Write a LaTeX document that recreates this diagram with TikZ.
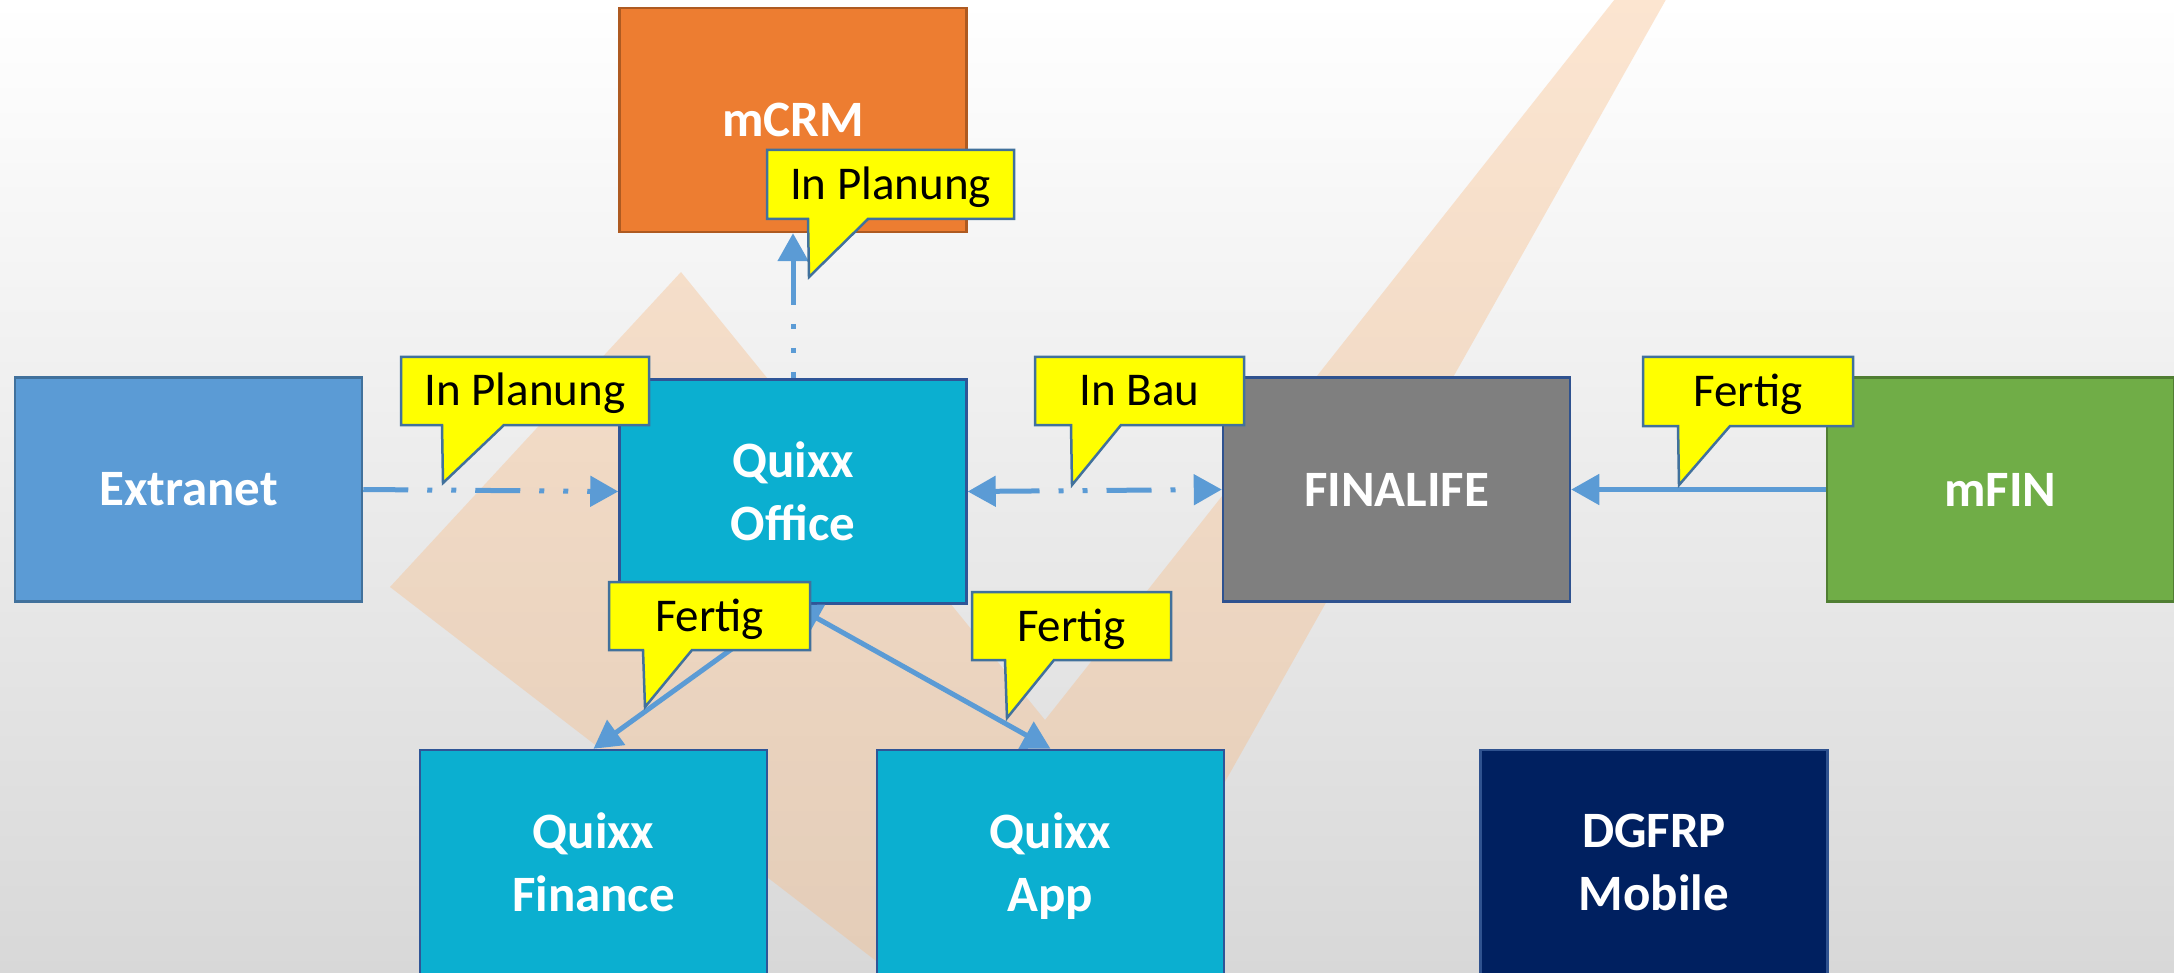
\documentclass[tikz,border=0pt]{standalone}
\usepackage{fontspec}
\setmainfont{Carlito}
\usetikzlibrary{arrows.meta,calc}
\definecolor{bgmid}{HTML}{F3F3F3}
\definecolor{bgbot}{HTML}{D8D8D8}
\definecolor{peach}{RGB}{248,186,130}
\definecolor{quixx}{HTML}{0BAFD0}
\definecolor{quixxb}{HTML}{2F5597}
\definecolor{extc}{HTML}{5B9BD5}
\definecolor{extb}{HTML}{41719C}
\definecolor{crmc}{HTML}{ED7D31}
\definecolor{crmb}{HTML}{AE5A21}
\definecolor{finc}{HTML}{7F7F7F}
\definecolor{finb}{HTML}{2F528F}
\definecolor{mfinc}{HTML}{70AD47}
\definecolor{mfinb}{HTML}{507E32}
\definecolor{dgc}{HTML}{002060}
\definecolor{dgb}{HTML}{2F528F}
\definecolor{arrowc}{HTML}{5B9BD5}
\definecolor{callb}{HTML}{41719C}
\definecolor{callf}{HTML}{FFFF00}
\newcommand\mycallout[9]{%
  \filldraw[callframe] (#2,#3) -- (#4,#3) -- (#4,#5) -- (#7,#5) -- (#8) -- (#6,#5) -- (#2,#5) -- cycle;
  \node[calltext] (#1) at ({(#2+#4)/2},{(#3+#5)/2+15}) {#9};
}
\begin{document}
\begin{tikzpicture}[x=1pt,y=-1pt,
  sysbox/.style={draw=#1, minimum width=347pt, minimum height=224pt, inner sep=0pt,
    line width=2.5pt, text=white, font=\fontsize{51}{63}\selectfont\bfseries, align=center},
  conn/.style={draw=arrowc, line width=5pt},
  dashdd/.style={dash pattern=on 45pt off 19pt on 5pt off 19pt on 5pt off 19pt},
  >={Triangle[length=28pt,width=30pt]},
  callframe/.style={fill=callf, draw=callb, line width=2.5pt, line join=miter},
  calltext/.style={anchor=base, inner sep=0pt, text=black, font=\fontsize{47}{56}\selectfont}]
\useasboundingbox (0,0) rectangle (2174,973);
\clip (0,0) rectangle (2174,973);
% background
\fill[top color=white, middle color=bgmid, bottom color=bgbot] (0,0) rectangle (2174,973);
% check mark
\fill[peach, fill opacity=0.37] (681,272) -- (390,587) -- (1049,1094) -- (1677,-20) -- (1630,-20) -- (1045,720) -- cycle;
% boxes
\node[sysbox=crmb, fill=crmc] (mcrm) at (793,120) {mCRM};
\node[sysbox=extb, fill=extc] (ext) at (188.5,489.5) {Extranet};
\node[sysbox=quixxb, fill=quixx] (off) at (793,491.5) {Quixx\\Office};
\node[sysbox=finb, fill=finc] (fin) at (1396.5,489.5) {FINALIFE};
\node[sysbox=mfinb, fill=mfinc] (mfin) at (2000.5,489.5) {mFIN};
\node[sysbox=quixxb, fill=quixx] (qf) at (593.5,862) {Quixx\\Finance};
\node[sysbox=quixxb, fill=quixx] (qa) at (1050.5,862) {Quixx\\\smash{App}};
\node[sysbox=dgb, fill=dgc] (dg) at (1654,862) {DGFRP\\Mobile};
% connectors
\draw[conn,dashdd,->] (ext.east) -- (off.west);
\draw[conn,dashdd,<-] (mcrm.south) -- (off.north);
\draw[conn,dashdd,<->] (off.east) -- (fin.west);
\draw[conn,->] (mfin.west) -- (fin.east);
\draw[conn,->] (off.south) -- (qf.north);
\draw[conn,<->] (off.south) -- (qa.north);
% callouts
\mycallout{cp1}{767}{150}{1014}{219}{808}{868}{809,277}{In Planung}
\mycallout{cp2}{401}{357}{649}{425}{442}{504}{443,483}{In Planung}
\mycallout{cb}{1035}{357}{1244}{425}{1071}{1121}{1072,485}{In Bau}
\mycallout{cf1}{1643}{357}{1853}{426}{1678}{1730}{1679,485}{Fertig}
\mycallout{cf2}{609}{582}{810}{650}{643}{692}{645,707}{Fertig}
\mycallout{cf3}{972}{592}{1171}{660}{1005}{1054}{1007,718}{Fertig}
\end{tikzpicture}
\end{document}
